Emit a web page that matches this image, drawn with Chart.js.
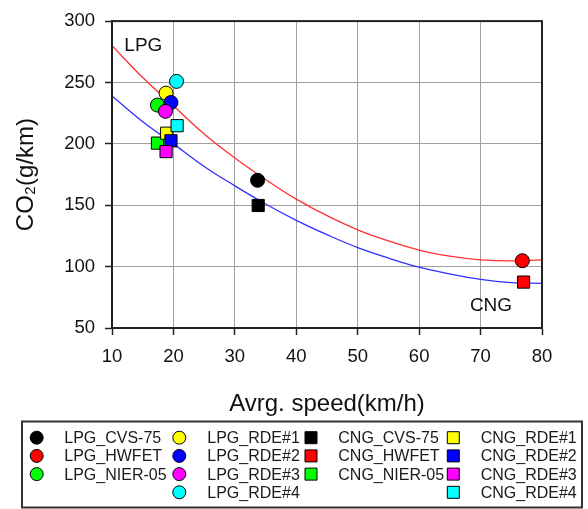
<!DOCTYPE html>
<html>
<head>
<meta charset="utf-8">
<script src="https://cdn.jsdelivr.net/npm/chart.js@4/dist/chart.umd.min.js"></script>
<style>
  html, body { margin: 0; padding: 0; background: #ffffff; }
  #wrap { width: 588px; height: 509px; }
</style>
</head>
<body>
<div id="wrap"><canvas id="c" width="588" height="509"></canvas></div>
<script>
// ---- data ----
const lpgLabels = ['LPG_CVS-75', 'LPG_HWFET', 'LPG_NIER-05', 'LPG_RDE#1', 'LPG_RDE#2', 'LPG_RDE#3', 'LPG_RDE#4'];
const lpgSpeed  = [33.7, 76.8, 17.4, 18.8, 19.6, 18.7, 20.5];
const lpgCO2    = [170.3, 104.8, 231.6, 241.3, 233.7, 226.5, 250.9];

const cngLabels = ['CNG_CVS-75', 'CNG_HWFET', 'CNG_NIER-05', 'CNG_RDE#1', 'CNG_RDE#2', 'CNG_RDE#3', 'CNG_RDE#4'];
const cngSpeed  = [33.8, 77.0, 17.4, 18.9, 19.6, 18.8, 20.6];
const cngCO2    = [149.8, 87.4, 200.6, 208.7, 202.5, 193.7, 214.8];

const markerColors = ['#000000', '#ff0000', '#00ff00', '#ffff00', '#0000ff', '#ff00ff', '#00ffff'];

// fitted curves (every 5 km/h)
const curveSpeed = [10, 15, 20, 25, 30, 35, 40, 45, 50, 55, 60, 65, 70, 75, 80];
const lpgCurve   = [280, 254, 231, 208, 188.5, 171, 155, 141.5, 130, 121, 113.5, 108.5, 105.5, 104.6, 105.5];
const cngCurve   = [239, 218, 200, 181.6, 165.8, 151, 137.7, 126, 115.5, 107, 99.5, 94, 89.6, 87, 86.4];

const xTicks = [10, 20, 30, 40, 50, 60, 70, 80];
const yTicks = [50, 100, 150, 200, 250, 300];

const curveLabels = ['LPG', 'CNG'];
const curveColors = ['#ff3030', '#3030ff'];

// ---- build datasets ----
const datasets = [];
lpgLabels.forEach((lab, i) => {
  datasets.push({
    label: lab,
    data: [{ x: lpgSpeed[i], y: lpgCO2[i] }],
    pointStyle: 'circle',
    pointRadius: 7,
    pointHoverRadius: 7,
    backgroundColor: markerColors[i],
    borderColor: '#000000',
    borderWidth: 1,
    order: 50 - i
  });
});
cngLabels.forEach((lab, i) => {
  datasets.push({
    label: lab,
    data: [{ x: cngSpeed[i], y: cngCO2[i] }],
    pointStyle: 'rect',
    pointRadius: 8.6,
    pointHoverRadius: 8.6,
    backgroundColor: markerColors[i],
    borderColor: '#000000',
    borderWidth: 1,
    order: 30 - i
  });
});
[lpgCurve, cngCurve].forEach((arr, k) => {
  datasets.push({
    label: curveLabels[k] + ' fit',
    type: 'line',
    data: curveSpeed.map((s, j) => ({ x: s, y: arr[j] })),
    borderColor: curveColors[k],
    borderWidth: 1.3,
    pointRadius: 0,
    showLine: true,
    fill: false,
    tension: 0.4,
    order: 100
  });
});

const FONT = "'Liberation Sans', Arial, 'DejaVu Sans', sans-serif";

// frame around plot area + curve labels + custom legend
const decorations = {
  id: 'decorations',
  afterDatasetsDraw(chart) {
    const ctx = chart.ctx;
    const a = chart.chartArea;
    ctx.save();
    ctx.strokeStyle = '#222222';
    ctx.lineWidth = 2;
    ctx.strokeRect(a.left, a.top, a.right - a.left, a.bottom - a.top);

    const xs = chart.scales.x, ys = chart.scales.y;
    ctx.fillStyle = '#111111';
    ctx.font = '19px ' + FONT;
    ctx.textAlign = 'center';
    ctx.textBaseline = 'middle';
    ctx.fillText(curveLabels[0], xs.getPixelForValue(15.1), ys.getPixelForValue(279.8));
    ctx.fillText(curveLabels[1], xs.getPixelForValue(71.7), ys.getPixelForValue(68.4));
    ctx.restore();
  },
  afterDraw(chart) {
    const ctx = chart.ctx;
    ctx.save();
    // legend box
    ctx.strokeStyle = '#333333';
    ctx.lineWidth = 2;
    ctx.strokeRect(22, 421.5, 560, 86);

    const rowY = [437.7, 455.9, 474.1, 492.3];
    const markX = [36.7, 179.3, 311, 453.3];
    const textX = [64.3, 207.3, 338.3, 480.7];
    const groups = [
      { ds: [0, 1, 2], col: 0 },
      { ds: [3, 4, 5, 6], col: 1 },
      { ds: [7, 8, 9], col: 2 },
      { ds: [10, 11, 12, 13], col: 3 }
    ];
    ctx.font = '16px ' + FONT;
    ctx.textBaseline = 'middle';
    ctx.textAlign = 'left';
    groups.forEach(g => {
      g.ds.forEach((di, r) => {
        const d = chart.data.datasets[di];
        const mx = markX[g.col], my = rowY[r];
        ctx.fillStyle = d.backgroundColor;
        ctx.strokeStyle = '#000000';
        ctx.lineWidth = 1;
        ctx.beginPath();
        if (d.pointStyle === 'circle') {
          ctx.arc(mx, my, 6.5, 0, Math.PI * 2);
        } else {
          ctx.rect(mx - 6, my - 6, 12, 12);
        }
        ctx.fill();
        ctx.stroke();
        ctx.fillStyle = '#1a1a1a';
        ctx.fillText(d.label, textX[g.col], my + 1);
      });
    });
    ctx.restore();
  }
};

new Chart(document.getElementById('c'), {
  type: 'scatter',
  data: { datasets },
  options: {
    responsive: false,
    animation: false,
    devicePixelRatio: 1,
    layout: { padding: { top: 16, right: 46, left: 0, bottom: 81 } },
    plugins: {
      legend: { display: false },
      tooltip: { enabled: false },
      title: { display: false }
    },
    scales: {
      x: {
        type: 'linear',
        min: 10, max: 80,
        afterFit(scale) { scale.height = 100; },
        afterBuildTicks(scale) { scale.ticks = xTicks.map(v => ({ value: v })); },
        ticks: { padding: 11, color: '#111111', font: { family: FONT, size: 18.5 } },
        grid: { color: '#a0a0a0', lineWidth: 1, tickLength: 7, tickColor: '#222222', tickWidth: 1.5 },
        border: { color: '#222222', width: 2 },
        title: {
          display: true,
          text: 'Avrg. speed(km/h)',
          color: '#111111',
          font: { family: FONT, size: 24 },
          padding: { top: 0, bottom: 9 }
        }
      },
      y: {
        type: 'linear',
        min: 50, max: 300,
        afterFit(scale) { scale.width = 112; },
        afterBuildTicks(scale) { scale.ticks = yTicks.map(v => ({ value: v })); },
        ticks: { padding: 10, color: '#111111', font: { family: FONT, size: 18.5 } },
        grid: { color: '#a0a0a0', lineWidth: 1, tickLength: 7, tickColor: '#222222', tickWidth: 1.5 },
        border: { color: '#222222', width: 2 },
        title: {
          display: true,
          text: 'CO₂(g/km)',
          color: '#111111',
          font: { family: FONT, size: 24 },
          padding: { top: 12, bottom: 0 }
        }
      }
    }
  },
  plugins: [decorations]
});
</script>
</body>
</html>
